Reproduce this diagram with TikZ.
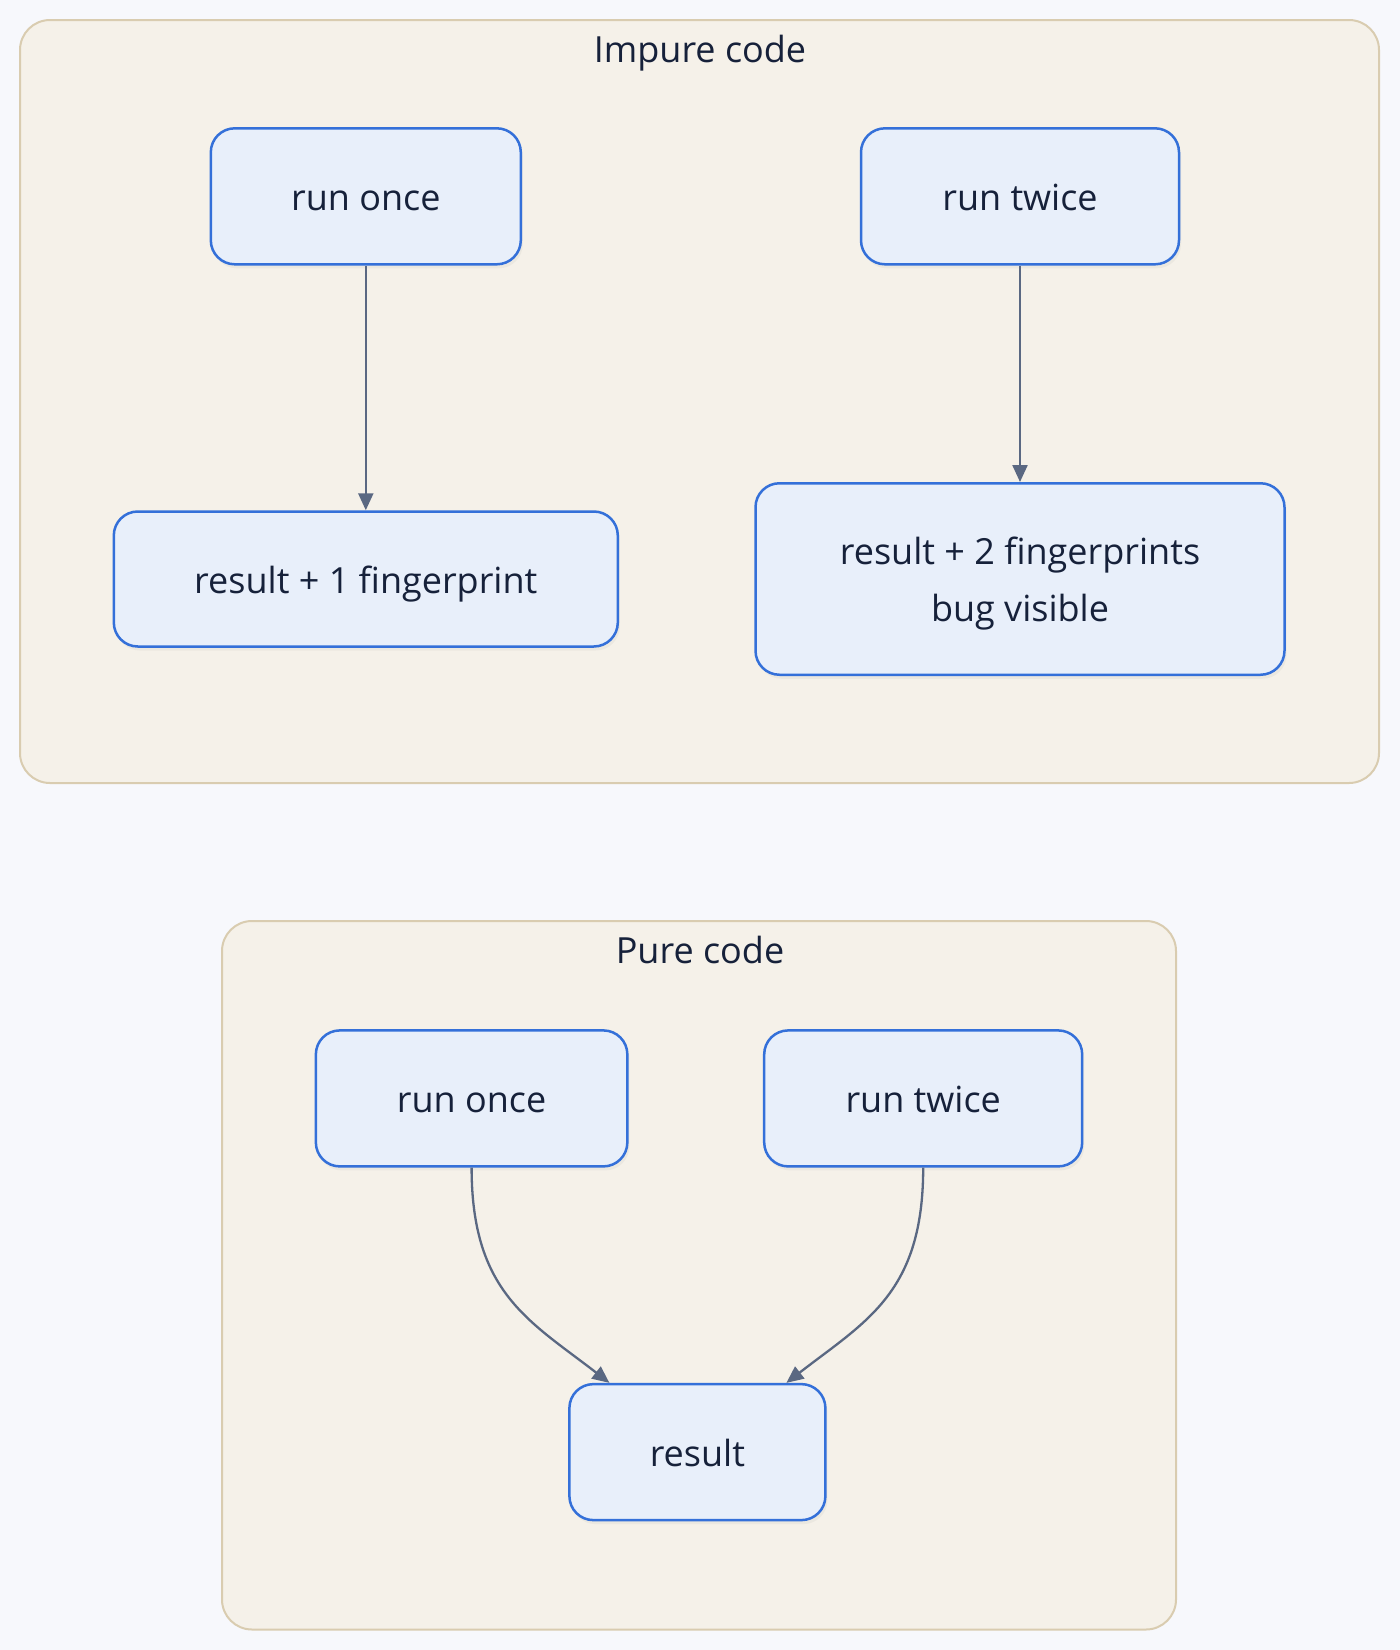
\documentclass[tikz,border=0pt]{standalone}
\usepackage{fontspec}
\setmainfont{Open Sans}
\usetikzlibrary{arrows.meta,shadows,calc}
\definecolor{bgc}{HTML}{F7F8FC}
\definecolor{clfill}{HTML}{F5F1E9}
\definecolor{cldraw}{HTML}{D9CCB0}
\definecolor{ndfill}{HTML}{E8EFFA}
\definecolor{nddraw}{HTML}{3470D9}
\definecolor{txt}{HTML}{16213A}
\definecolor{edge}{HTML}{5A6882}
\tikzset{
  cluster/.style={draw=cldraw, fill=clfill, line width=2pt, rounded corners=30pt},
  cltitle/.style={text=txt, font=\fontsize{36}{44}\selectfont, anchor=base, inner sep=0pt},
  box/.style={draw=nddraw, fill=ndfill, line width=2.5pt, rounded corners=24pt,
    text=txt, font=\fontsize{36}{57}\selectfont, align=center, inner sep=0pt,
    text height=28pt, text depth=0pt,
    drop shadow={opacity=0.08, shadow xshift=2pt, shadow yshift=-4pt}},
  conn/.style={draw=edge, line width=2.3pt, -{Triangle[length=17pt,width=15pt]}},
}
\begin{document}
\begin{tikzpicture}[x=1pt,y=-1pt]
\useasboundingbox[fill=bgc] (0,0) rectangle (1400,1650);
% clusters
\draw[cluster] (20,20) rectangle (1379,783);
\node[cltitle] (t1) at (700,62.7) {Impure code};
\draw[cluster] (222,921) rectangle (1176,1629.5);
\node[cltitle] (t2) at (700,963.7) {Pure code};
% impure nodes
\node[box, minimum width=310pt, minimum height=136pt] (ro1) at (365.8,196.3) {run once};
\node[box, minimum width=318pt, minimum height=136pt] (rt1) at (1020,196.3) {run twice};
\node[box, minimum width=504pt, minimum height=135pt] (r1) at (365.8,579) {result + 1 fingerprint};
\node[box, minimum width=529pt, minimum height=191.5pt, text height=85pt, text depth=0pt] (r2) at (1020,579) {result + 2 fingerprints\\bug visible};
% pure nodes
\node[box, minimum width=311.5pt, minimum height=136pt] (ro2) at (471.6,1098.4) {run once};
\node[box, minimum width=318pt, minimum height=136pt] (rt2) at (923.2,1098.4) {run twice};
\node[box, minimum width=256pt, minimum height=136pt] (res) at (697.4,1452.1) {result};
% connectors
\draw[conn] (ro1.south) -- (r1.north);
\draw[conn] (rt1.south) -- (r2.north);
\draw[conn] (ro2.south) .. controls ++(0,125) and ++(-80,-62) .. ([xshift=-88pt]res.north);
\draw[conn] (rt2.south) .. controls ++(0,125) and ++(80,-62) .. ([xshift=89pt]res.north);
\end{tikzpicture}
\end{document}
